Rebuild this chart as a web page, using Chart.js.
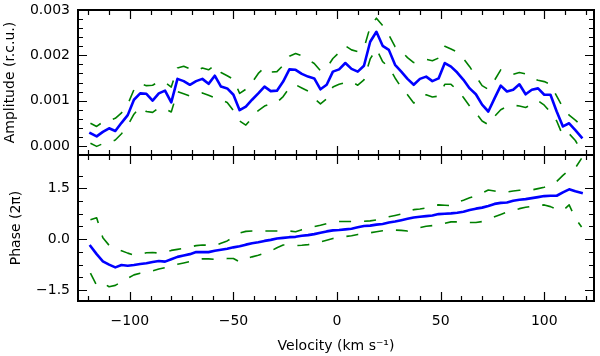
<!DOCTYPE html>
<html><head><meta charset="utf-8">
<script src="https://cdn.jsdelivr.net/npm/chart.js@4.4.1/dist/chart.umd.min.js"></script>
<style>
html,body{margin:0;padding:0;background:#fff;}
#wrap{position:relative;width:600px;height:356px;background:#fff;}
canvas{position:absolute;left:0;top:0;}
</style></head><body>
<div id="wrap"><canvas id="amp" width="600" height="356"></canvas><canvas id="pha" width="600" height="356"></canvas></div>
<script>
const velocity = [-119,-116,-113,-110,-107,-104,-101,-98,-95,-92,-89,-86,-83,-80,-77,-74,-71,-68,-65,-62,-59,-56,-53,-50,-47,-44,-41,-38,-35,-32,-29,-26,-23,-20,-17,-14,-11,-8,-5,-2,1,4,7,10,13,16,19,22,25,28,31,34,37,40,43,46,49,52,55,58,61,64,67,70,73,76,79,82,85,88,91,94,97,100,103,106,109,112,115,118];

const amplitude = [0.00028,0.00021,0.00031,0.00039,0.00033,0.00051,0.00068,0.00102,0.00116,0.00115,
0.00100,0.00116,0.00122,0.00096,0.00148,0.00143,0.00135,0.00143,0.00148,0.00137,
0.00155,0.00131,0.00127,0.00113,0.00079,0.00087,0.00102,0.00116,0.00131,0.00121,
0.00122,0.00142,0.00169,0.00168,0.00159,0.00153,0.00149,0.00125,0.00135,0.00164,
0.00169,0.00183,0.00170,0.00164,0.00177,0.00230,0.00252,0.00221,0.00212,0.00179,
0.00164,0.00148,0.00135,0.00148,0.00153,0.00143,0.00149,0.00183,0.00175,0.00162,
0.00146,0.00127,0.00114,0.00091,0.00076,0.00105,0.00133,0.00120,0.00124,0.00136,
0.00114,0.00124,0.00127,0.00113,0.00113,0.00076,0.00043,0.00050,0.00035,0.00019];

const amplitudeUpper = [0.00050,0.00043,0.00053,0.00056,0.00061,0.00073,0.00092,0.00124,0.00138,0.00133,
0.00134,0.00142,0.00140,0.00130,0.00172,0.00176,0.00170,0.00166,0.00172,0.00168,
0.00178,0.00162,0.00155,0.00147,0.00116,0.00125,0.00140,0.00160,0.00173,0.00163,
0.00164,0.00178,0.00198,0.00204,0.00199,0.00191,0.00182,0.00166,0.00172,0.00193,
0.00206,0.00221,0.00212,0.00208,0.00216,0.00263,0.00282,0.00266,0.00245,0.00219,
0.00209,0.00195,0.00184,0.00186,0.00191,0.00188,0.00194,0.00220,0.00214,0.00207,
0.00193,0.00175,0.00154,0.00133,0.00125,0.00145,0.00168,0.00164,0.00158,0.00162,
0.00159,0.00150,0.00145,0.00142,0.00136,0.00110,0.00085,0.00068,0.00057,0.00044];

const amplitudeLower = [0.00006,-0.00001,0.00005,0.00008,0.00013,0.00027,0.00045,0.00070,0.00086,0.00076,
0.00074,0.00084,0.00082,0.00075,0.00120,0.00115,0.00110,0.00112,0.00117,0.00112,
0.00106,0.00102,0.00096,0.00078,0.00055,0.00046,0.00062,0.00078,0.00088,0.00093,
0.00096,0.00109,0.00128,0.00135,0.00128,0.00121,0.00105,0.00093,0.00104,0.00130,
0.00136,0.00140,0.00142,0.00134,0.00146,0.00192,0.00214,0.00186,0.00174,0.00150,
0.00129,0.00113,0.00095,0.00100,0.00113,0.00108,0.00110,0.00136,0.00136,0.00123,
0.00107,0.00088,0.00073,0.00055,0.00047,0.00065,0.00080,0.00087,0.00090,0.00088,
0.00085,0.00092,0.00100,0.00090,0.00074,0.00055,0.00022,0.00027,0.00012,-0.00012];

const phase = [-0.20,-0.44,-0.65,-0.75,-0.83,-0.76,-0.78,-0.76,-0.73,-0.71,
-0.67,-0.64,-0.66,-0.59,-0.52,-0.48,-0.44,-0.38,-0.38,-0.38,
-0.34,-0.31,-0.28,-0.24,-0.21,-0.16,-0.12,-0.09,-0.05,-0.02,
0.02,0.04,0.06,0.07,0.10,0.12,0.15,0.19,0.23,0.26,
0.27,0.29,0.31,0.35,0.39,0.40,0.43,0.45,0.49,0.52,
0.56,0.60,0.64,0.66,0.68,0.70,0.74,0.75,0.76,0.78,
0.81,0.86,0.90,0.93,0.98,1.04,1.07,1.08,1.13,1.16,
1.18,1.21,1.24,1.27,1.28,1.28,1.38,1.47,1.41,1.36];

const phaseUpper = [0.57,0.63,0.04,-0.18,-0.28,-0.34,-0.41,-0.47,-0.45,-0.40,
-0.39,-0.41,-0.38,-0.33,-0.30,-0.27,-0.23,-0.19,-0.17,-0.18,
-0.19,-0.12,-0.05,0.06,0.18,0.23,0.24,0.24,0.24,0.24,
0.24,0.24,0.24,0.22,0.28,0.32,0.37,0.41,0.46,0.50,
0.52,0.52,0.52,0.53,0.53,0.54,0.57,0.62,0.66,0.70,
0.74,0.81,0.87,0.89,0.92,0.98,1.01,1.00,0.99,1.09,
1.15,1.22,1.28,1.36,1.45,1.42,1.38,1.39,1.42,1.44,
1.44,1.45,1.49,1.53,1.62,1.70,1.88,2.03,2.10,2.38];

const phaseLower = [-1.00,-1.36,-1.29,-1.40,-1.36,-1.25,-1.15,-1.05,-1.00,-0.96,
-0.93,-0.88,-0.84,-0.79,-0.74,-0.70,-0.66,-0.61,-0.58,-0.58,
-0.59,-0.58,-0.57,-0.57,-0.67,-0.58,-0.52,-0.47,-0.41,-0.35,
-0.25,-0.17,-0.18,-0.19,-0.18,-0.16,-0.13,-0.08,-0.03,0.02,
0.05,0.08,0.10,0.14,0.16,0.19,0.22,0.25,0.26,0.27,
0.26,0.24,0.30,0.34,0.38,0.40,0.43,0.47,0.51,0.51,
0.50,0.49,0.49,0.52,0.58,0.66,0.73,0.80,0.84,0.90,
0.94,0.97,0.99,1.01,0.96,0.88,0.84,1.01,0.62,0.36];

const velocityTicks = [-100,-50,0,50,100];
const velocityMinorTicks = [-120,-110,-90,-80,-70,-60,-40,-30,-20,-10,10,20,30,40,60,70,80,90,110,120];
const amplitudeTicks = [0,0.001,0.002,0.003];
const amplitudeMinorTicks = [0.0002,0.0004,0.0006,0.0008,0.0012,0.0014,0.0016,0.0018,0.0022,0.0024,0.0026,0.0028];
const phaseTicks = [-1.5,0,1.5];
const phaseMinorTicks = [-1.125,-0.75,-0.375,0.375,0.75,1.125,1.875];

Chart.defaults.font.family = "'DejaVu Sans', sans-serif";
Chart.defaults.font.size = 14;
Chart.defaults.color = '#000';

const pts = ys => velocity.map((v, i) => ({x: v, y: ys[i]}));
const minus = s => s.replace('-', '\u2212');

const frameTicks = {
  id: 'frameTicks',
  afterDatasetsDraw(chart, args, o) {
    const {ctx, chartArea: a, scales} = chart;
    const xs = scales.x, ys = scales.y;
    ctx.save();
    ctx.strokeStyle = '#000';
    ctx.lineWidth = 1.2;
    ctx.beginPath();
    const vt = (list, len) => list.forEach(v => {
      const p = Math.round(xs.getPixelForValue(v)) + 0.5;
      ctx.moveTo(p, a.top); ctx.lineTo(p, a.top + len);
      ctx.moveTo(p, a.bottom); ctx.lineTo(p, a.bottom - len);
    });
    const ht = (list, len) => list.forEach(v => {
      const p = Math.round(ys.getPixelForValue(v)) + 0.5;
      ctx.moveTo(a.left, p); ctx.lineTo(a.left + len, p);
      ctx.moveTo(a.right, p); ctx.lineTo(a.right - len, p);
    });
    vt(velocityTicks, 9); vt(velocityMinorTicks, 5);
    ht(o.major, 9); ht(o.minor, 5);
    ctx.stroke();
    ctx.lineWidth = 2;
    ctx.strokeRect(a.left, a.top, a.right - a.left, a.bottom - a.top);
    ctx.restore();
  }
};

const blue = {borderColor: '#0000ff', borderWidth: 2.6, borderJoinStyle: 'round', borderCapStyle: 'square'};
const green = {borderColor: '#008000', borderWidth: 1.6, borderDash: [12, 13], borderCapStyle: 'butt', borderJoinStyle: 'round'};

function commonOptions(padding, yMin, yMax, ticks, minor, fmt, title, titlePad) {
  return {
    responsive: false, animation: false, devicePixelRatio: 1,
    layout: {padding},
    elements: {point: {radius: 0}, line: {tension: 0}},
    plugins: {legend: {display: false}, tooltip: {enabled: false}, frameTicks: {major: ticks, minor}},
    scales: {
      y: {
        type: 'linear', min: yMin, max: yMax,
        afterBuildTicks: s => { s.ticks = ticks.map(v => ({value: v})); },
        afterFit: s => { s.width = 78; s.paddingTop = 0; s.paddingBottom = 0; },
        grid: {display: false, drawTicks: false}, border: {display: false},
        ticks: {padding: 8, color: '#000', callback: fmt},
        title: {display: true, text: title, color: '#000', padding: {top: titlePad, bottom: 0}}
      }
    }
  };
}

const ampOpts = commonOptions({left: 0, right: 6, top: 10, bottom: 201}, -0.0002, 0.003,
  amplitudeTicks, amplitudeMinorTicks, v => v.toFixed(3), 'Amplitude (r.c.u.)', 2);
ampOpts.scales.x = {type: 'linear', min: -125, max: 124, display: false};

new Chart(document.getElementById('amp'), {
  type: 'line',
  data: {datasets: [
    Object.assign({data: pts(amplitude)}, blue),
    Object.assign({data: pts(amplitudeUpper)}, green),
    Object.assign({data: pts(amplitudeLower)}, green)
  ]},
  options: ampOpts,
  plugins: [frameTicks]
});

const phaOpts = commonOptions({left: 0, right: 6, top: 155, bottom: 0}, -1.82, 2.48,
  phaseTicks, phaseMinorTicks, v => minus(v.toFixed(1)), 'Phase (2\u03c0)', 8);
phaOpts.scales.x = {
  type: 'linear', min: -125, max: 124, position: 'bottom',
  afterBuildTicks: s => { s.ticks = velocityTicks.map(v => ({value: v})); },
  afterFit: s => { s.height = 55; s.paddingLeft = 0; s.paddingRight = 0; },
  grid: {display: false, drawTicks: false}, border: {display: false},
  ticks: {padding: 12, color: '#000', maxRotation: 0, callback: v => minus(String(v))},
  title: {display: true, text: 'Velocity (km s\u207b\u00b9)', color: '#000', padding: {top: 0, bottom: 1}}
};

new Chart(document.getElementById('pha'), {
  type: 'line',
  data: {datasets: [
    Object.assign({data: pts(phase)}, blue),
    Object.assign({data: pts(phaseUpper)}, green),
    Object.assign({data: pts(phaseLower)}, green)
  ]},
  options: phaOpts,
  plugins: [frameTicks]
});
</script>
</body></html>
